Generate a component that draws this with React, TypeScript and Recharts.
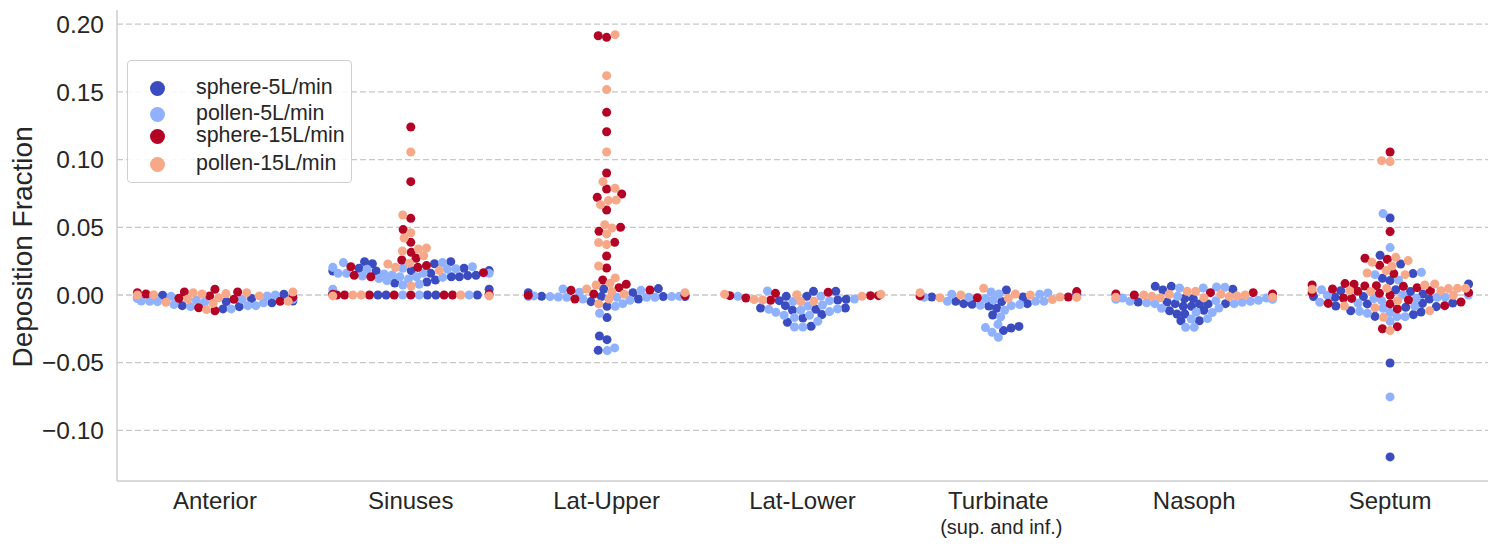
import React from 'react';
import { CartesianGrid, Legend, Scatter, ScatterChart, XAxis, YAxis, ZAxis } from 'recharts';

const categories = ['Anterior', 'Sinuses', 'Lat-Upper', 'Lat-Lower', 'Turbinate', 'Nasoph', 'Septum'];
const subLabels: Record<string, string> = { Turbinate: '(sup. and inf.)' };
const yTicks = [-0.1, -0.05, 0, 0.05, 0.1, 0.15, 0.2];

// each series: one list per category, every point is [swarm offset, deposition fraction]
const sphere5: number[][][] = [
  [[-0.396, -0.0017], [-0.267, -0.0002], [-0.167, -0.0079], [0.041, -0.0103], [0.058, -0.0049], [0.124, -0.0086], [0.187, -0.0027], [0.291, -0.0057], [0.352, 0.0005], [0.398, -0.0044]],
  [[-0.398, 0.0177], [-0.398, 0.0012], [-0.264, 0.0197], [-0.236, 0.0246], [-0.196, 0.0231], [-0.177, 0.0177], [-0.082, 0.0089], [0.002, 0.018], [0.082, 0.0096], [0.102, 0.016], [0.126, 0.0111], [0.121, 0.0231], [0.204, 0.0246], [0.207, 0.0135], [0.248, 0.0135], [0.272, 0.0197], [0.291, 0.0143], [0.333, 0.0145], [0.4, 0.018], [0.4, 0.0042], [-0.168, 0], [-0.126, 0], [0.085, 0], [0.128, 0], [0.34, 0]],
  [[-0.4, 0.0017], [-0.332, -0.001], [-0.08, -0.0049], [-0.015, 0.0044], [-0.027, -0.0012], [0.002, -0.0084], [0.002, -0.0167], [0.134, 0.0017], [0.162, -0.003], [0.264, 0.0047], [0.289, -0.0012], [0.4, -0.0012], [-0.037, -0.0303], [0.002, -0.033], [-0.043, -0.0409]],
  [[-0.119, -0.0042], [-0.083, -0.001], [0.022, -0.001], [0.056, 0.0027], [0.17, 0.0027], [0.18, -0.0037], [0.223, -0.0032], [-0.214, -0.0096], [-0.087, -0.0079], [-0.051, -0.0113], [-0.077, -0.0202], [0.002, -0.017], [0.044, -0.0231], [0.068, -0.0106], [0.099, -0.0145], [0.219, -0.0096]],
  [[-0.34, -0.0015], [-0.218, -0.0047], [-0.177, -0.0064], [-0.134, -0.0069], [-0.049, -0.0081], [0.017, -0.0049], [-0.009, -0.0098], [-0.029, -0.0148], [0.041, 0.0037], [0.126, -0.0015], [0.148, -0.0064], [0.4, 0.0005], [0.026, -0.0263], [0.065, -0.0244], [0.105, -0.0232]],
  [[-0.286, -0.0052], [-0.199, 0.0064], [-0.16, 0.0037], [-0.139, -0.0052], [-0.117, 0.0064], [-0.126, -0.0116], [-0.097, -0.0064], [-0.088, -0.014], [-0.048, -0.014], [-0.068, -0.019], [-0.049, -0.0027], [-0.056, -0.0084], [-0.005, -0.0027], [-0.014, -0.0084], [0.026, -0.019], [0.027, -0.0066], [0.049, -0.0113], [0.071, -0.0066], [0.16, -0.0064], [0.197, 0.0042]],
  [[-0.051, 0.0293], [0.054, 0.0229], [0.117, 0.0158], [-0.039, 0.0123], [0, 0.0106], [-0.391, -0.0012], [-0.281, -0.0017], [-0.277, -0.0081], [-0.252, 0.0032], [-0.201, -0.0116], [-0.136, -0.0012], [-0.116, -0.0066], [-0.077, -0.0158], [0.029, 0.0039], [0.08, -0.0091], [0.104, 0.0025], [0.119, -0.0145], [0.158, -0.0126], [0.165, -0.0062], [0.168, 0.0007], [0.201, -0.003], [0.236, -0.0086], [0.32, -0.0059], [0.401, 0.0081], [0, 0.0569], [0, -0.0502], [0, -0.1196]],
];

const pollen5: number[][][] = [
  [[-0.396, -0.0027], [-0.376, -0.0044], [-0.333, -0.0047], [-0.293, -0.0049], [-0.224, -0.001], [-0.209, -0.0071], [-0.124, -0.0086], [-0.095, -0.0037], [-0.053, -0.0054], [0.083, -0.0103], [0.139, -0.0032], [0.168, -0.0079], [0.209, -0.0079], [0.248, -0.0057], [0.267, -0.0007], [0.308, 0], [0.398, -0.0032]],
  [[-0.398, 0.0204], [-0.398, 0.0042], [-0.371, 0.016], [-0.344, 0.0239], [-0.328, 0.016], [-0.247, 0.014], [-0.223, 0.019], [-0.163, 0.0121], [-0.136, 0.0155], [-0.122, 0.0106], [-0.095, 0.0148], [-0.056, 0.0135], [-0.041, 0.0197], [-0.041, 0.0074], [-0.012, 0.0118], [0.029, 0.0135], [0.043, 0.0079], [0.063, 0.016], [0.162, 0.0239], [0.163, 0.013], [0.187, 0.019], [0.23, 0.0194], [0.315, 0.0209], [0.4, 0.016], [-0.041, 0], [0.043, 0], [0.298, 0]],
  [[-0.4, -0.0012], [-0.371, -0.0007], [-0.289, -0.0012], [-0.247, -0.0015], [-0.204, -0.0017], [-0.223, 0.0044], [-0.139, 0.002], [-0.121, -0.003], [-0.036, -0.0135], [0.044, -0.0084], [0.053, -0.0017], [0.082, -0.0064], [0.119, -0.0039], [0.175, 0.0034], [0.204, -0.0017], [0.247, -0.0017], [0.332, -0.0012], [0.372, -0.001], [0.003, -0.0411], [0.041, -0.0391]],
  [[-0.33, -0.001], [-0.179, 0.003], [-0.049, -0.0049], [0.094, -0.001], [0.138, -0.0042], [0.265, -0.003], [-0.172, -0.0106], [-0.136, -0.0128], [-0.094, -0.015], [-0.041, -0.0167], [-0.041, -0.0236], [-0.009, -0.0113], [0.002, -0.0236], [0.027, -0.0081], [0.036, -0.015], [0.078, -0.0194], [0.102, -0.0074], [0.138, -0.0123], [0.179, -0.0103]],
  [[-0.379, -0.0017], [-0.26, -0.0047], [-0.238, 0.0005], [-0.151, -0.0017], [-0.092, -0.0076], [-0.065, -0.0027], [-0.037, 0.0022], [-0.026, -0.0037], [0.003, 0.0007], [0.032, -0.0113], [0.066, -0.0079], [0.109, -0.0071], [0.19, -0.0047], [0.211, 0.0005], [0.233, -0.0047], [0.253, 0.0015], [0.012, -0.0162], [-0.002, -0.0217], [-0.066, -0.0241], [-0.032, -0.0276], [0, -0.0313]],
  [[-0.4, -0.0032], [-0.366, -0.0022], [-0.328, -0.0047], [-0.243, -0.0057], [-0.201, -0.0064], [-0.167, -0.0098], [-0.075, 0.0052], [-0.085, -0.001], [-0.015, -0.0177], [-0.044, -0.0239], [0, -0.0239], [0.01, -0.0128], [0.046, 0.0052], [0.068, -0.0175], [0.092, -0.013], [0.111, -0.0042], [0.114, 0.0059], [0.126, -0.0096], [0.156, 0.0057], [0.204, -0.0064], [0.245, -0.0054], [0.287, -0.0047], [0.328, -0.0039], [0.369, -0.0022], [0.4, -0.0032]],
  [[0, 0.035], [-0.077, 0.015], [0.16, 0.0167], [0.043, 0.0111], [-0.35, 0.0039], [-0.359, -0.0054], [-0.32, -0.0002], [-0.163, -0.0062], [-0.156, -0.0121], [-0.116, -0.0135], [-0.083, -0.0027], [-0.043, -0.0042], [-0.036, -0.0098], [0, -0.013], [0, -0.0194], [0.036, -0.016], [0.065, 0], [0.077, -0.016], [0.126, -0.0084], [0.134, -0.0025], [0.241, -0.0017], [0.282, -0.0017], [0.4, 0], [-0.036, 0.0601], [0, -0.0753]],
];

const sphere15: number[][][] = [
  [[-0.396, 0.0017], [-0.352, 0.0007], [-0.184, -0.0025], [-0.156, 0.0022], [-0.083, -0.0094], [-0.027, -0.0007], [0, 0.0042], [0, -0.0116], [0.097, -0.0032], [0.116, 0.0022], [0.333, -0.0047], [0.398, -0.0017]],
  [[-0.398, 0.0005], [-0.306, 0.0209], [-0.289, 0.0145], [-0.204, 0.0135], [0.371, 0.0165], [0.4, 0.0005], [-0.378, 0], [-0.338, 0], [-0.211, 0], [-0.085, 0], [0, 0], [0.17, 0], [0.213, 0], [0.002, 0.0315], [0.027, 0.0271], [-0.046, 0.0258], [0.036, 0.0204], [0.08, 0.0217], [0, 0.1241], [0, 0.0837], [0, 0.0566], [-0.039, 0.0483], [0, 0.0389]],
  [[-0.4, -0.0002], [-0.182, 0.0034], [-0.162, -0.003], [-0.066, 0.0007], [-0.02, 0.0111], [0.063, 0.0054], [0.1, 0.0079], [0.221, 0.0037], [0.4, -0.0002], [-0.043, 0.1915], [0, 0.1903], [0, 0.1349], [0, 0.1206], [0, 0.0901], [0, 0.0783], [0.077, 0.0746], [-0.048, 0.0721], [0, 0.0628], [0.071, 0.05], [-0.039, 0.047], [0.041, 0.0389], [0, 0.0288], [0, 0.0199]],
  [[-0.371, -0.0005], [-0.289, -0.0022], [-0.138, 0.0012], [-0.163, -0.0039], [0.131, 0.002], [0.347, -0.0005], [0.388, -0.0005]],
  [[-0.4, -0.0007], [-0.107, -0.002], [0.357, -0.0015], [0.4, 0.0025]],
  [[-0.4, 0.0007], [-0.306, 0], [0.083, 0.0017], [0.301, 0.0017], [0.4, 0.0007]],
  [[-0.128, 0.0271], [-0.014, 0.0263], [-0.053, 0.0219], [0.019, 0.0158], [-0.398, 0.0074], [-0.398, 0.0017], [-0.316, -0.0062], [-0.294, 0.0044], [-0.238, -0.0022], [-0.23, 0.0084], [-0.196, -0.0025], [-0.184, 0.0079], [-0.165, 0.0027], [-0.129, 0.0066], [-0.07, 0.0069], [-0.054, 0.0012], [0, -0.0002], [0, -0.0066], [-0.039, -0.0249], [0.037, -0.0234], [0.037, -0.0103], [0.068, 0.0064], [0.094, -0.0037], [0.138, 0.0054], [0.206, 0.0032], [0.279, -0.0079], [0.362, -0.0052], [0.401, 0.0017], [0, 0.1056], [0, 0.0468]],
];

const pollen15: number[][][] = [
  [[-0.396, 0], [-0.313, 0.0002], [-0.25, -0.0054], [-0.138, -0.003], [-0.111, 0.0017], [-0.066, 0.0007], [-0.043, -0.0108], [-0.009, -0.0062], [0.019, -0.002], [0.056, 0.001], [0.162, 0.0017], [0.226, -0.0007], [0.374, -0.0047], [0.398, 0.0022]],
  [[-0.398, -0.0007], [0.002, 0.0066], [0.4, -0.0007], [-0.296, 0], [-0.253, 0], [0.255, 0], [-0.043, 0.0325], [0.039, 0.034], [0.08, 0.0347], [0.066, 0.029], [-0.007, 0.0234], [-0.117, 0.0229], [-0.078, 0.0204], [0.146, 0.018], [0, 0.1056], [-0.041, 0.0591], [0, 0.046], [-0.034, 0.0421]],
  [[-0.102, 0.0044], [-0.054, 0.0074], [-0.041, -0.0066], [0.017, 0.0086], [0.026, 0.0025], [0.012, -0.003], [0.044, 0.0126], [0.09, 0.0005], [0.4, 0.0017], [0.043, 0.1923], [0, 0.162], [0, 0.1517], [0, 0.1056], [-0.019, 0.0837], [0.043, 0.0788], [0.009, 0.0697], [0.049, 0.0702], [-0.031, 0.0667], [-0.01, 0.0519], [0.027, 0.0495], [0, 0.0451], [-0.041, 0.0387], [0, 0.0372], [-0.041, 0.0214]],
  [[-0.398, 0.0005], [-0.247, -0.0034], [-0.204, -0.0037], [-0.029, 0.0002], [-0.009, -0.0049], [0.058, -0.0047], [0.304, -0.001], [0.4, 0.0005]],
  [[-0.4, 0.0017], [-0.298, -0.002], [-0.192, 0], [-0.075, 0.0049], [0.051, -0.0025], [0.087, 0.0007], [0.163, 0], [0.276, -0.0034], [0.315, -0.0015], [0.4, -0.0017]],
  [[-0.4, -0.0017], [-0.257, 0], [-0.216, -0.001], [-0.173, -0.002], [-0.128, 0.0005], [-0.036, 0.0027], [0.007, 0.0027], [0.049, -0.002], [0.136, 0.0005], [0.179, -0.0012], [0.219, -0.0007], [0.26, 0], [0.4, -0.0017]],
  [[0.029, 0.0278], [-0.092, 0.0241], [0.092, 0.0254], [0.01, 0.0214], [-0.02, 0.018], [-0.117, 0.0162], [0.077, 0.015], [-0.398, 0.0042], [-0.233, -0.0081], [-0.207, 0.0032], [-0.099, 0.0025], [-0.077, -0.0094], [-0.034, -0.0165], [-0.017, 0.0049], [0, -0.0263], [0.039, -0.0042], [0.177, 0.0074], [0.202, -0.0116], [0.228, 0.0081], [0.259, 0.0032], [0.298, 0.0047], [0.323, -0.0002], [0.344, 0.0049], [0.386, 0.0049], [-0.043, 0.0992], [0, 0.0985]],
];

const FONT = '"Liberation Sans", Arial, sans-serif';
const AXIS_COLOR = '#cccccc';

const series = [
  { name: 'sphere-5L/min', color: '#3b4cc0', lists: sphere5 },
  { name: 'pollen-5L/min', color: '#8fb1fe', lists: pollen5 },
  { name: 'sphere-15L/min', color: '#b40426', lists: sphere15 },
  { name: 'pollen-15L/min', color: '#f7a889', lists: pollen15 },
];

const toPoints = (lists: number[][][]) =>
  lists.flatMap((points, cat) => points.map(([offset, value]) => ({ x: cat + offset, y: value })));

const formatY = (v: number) => (v < 0 ? '\u2212' : '') + Math.abs(v).toFixed(2);

const CategoryTick = ({ x, y, payload }: any) => {
  const name = categories[payload.value];
  return (
    <g>
      <text x={x} y={y + 20} textAnchor="middle" fontSize={24} fontFamily={FONT} fill="#262626">
        {name}
      </text>
      {subLabels[name] && (
        <text x={x + 3} y={y + 45} textAnchor="middle" fontSize={20} fontFamily={FONT} fill="#262626">
          {subLabels[name]}
        </text>
      )}
    </g>
  );
};

const rowTops = [15, 41, 63, 91];

const LegendBox = () => (
  <div
    style={{
      position: 'relative',
      width: 225,
      height: 123,
      boxSizing: 'border-box',
      border: '1.5px solid #cfcfcf',
      borderRadius: 4,
      background: 'rgba(255,255,255,0.85)',
      fontFamily: FONT,
      fontSize: 21.4,
      color: '#262626',
    }}
  >
    {series.map((s, i) => (
      <div key={s.name} style={{ position: 'absolute', left: 0, top: rowTops[i], height: 24, width: 223 }}>
        <span
          style={{
            position: 'absolute',
            left: 22,
            top: 5,
            width: 15,
            height: 15,
            borderRadius: '50%',
            background: s.color,
          }}
        />
        <span style={{ position: 'absolute', left: 68, top: -1, lineHeight: '24px', whiteSpace: 'nowrap' }}>{s.name}</span>
      </div>
    ))}
  </div>
);

export default function App() {
  return (
    <div style={{ position: 'absolute', left: 0, top: 0, width: 1500, height: 559, background: '#fff' }}>
      <ScatterChart width={1500} height={559} margin={{ top: 10, right: 12, bottom: 18, left: 0 }}>
        <CartesianGrid vertical={false} syncWithTicks stroke="#c8c8c8" strokeWidth={1.3} strokeDasharray="6 3" />
        <XAxis
          type="number"
          dataKey="x"
          domain={[-0.5, 6.5]}
          ticks={[0, 1, 2, 3, 4, 5, 6]}
          interval={0}
          height={60}
          tickLine={false}
          axisLine={{ stroke: AXIS_COLOR, strokeWidth: 1.5 }}
          tick={<CategoryTick />}
        />
        <YAxis
          type="number"
          dataKey="y"
          domain={[-0.1374, 0.2105]}
          ticks={yTicks}
          interval={0}
          width={117}
          tickLine={false}
          tickMargin={7}
          tickFormatter={formatY}
          axisLine={{ stroke: AXIS_COLOR, strokeWidth: 1.5 }}
          tick={{ fontSize: 24.5, fontFamily: FONT, fill: '#262626' }}
          label={{
            value: 'Deposition Fraction',
            angle: -90,
            position: 'insideLeft',
            offset: 0,
            dx: 22,
            dy: 122,
            style: { fontSize: 28, fontFamily: FONT, fill: '#262626' },
          }}
        />
        <ZAxis range={[62, 62]} />
        <Legend
          layout="horizontal"
          verticalAlign="middle"
          content={<LegendBox />}
          wrapperStyle={{ left: 127, top: 60, width: 225, height: 123, bottom: 'auto' }}
        />
        {series.map((s) => (
          <Scatter key={s.name} name={s.name} data={toPoints(s.lists)} fill={s.color} isAnimationActive={false} />
        ))}
      </ScatterChart>
    </div>
  );
}
